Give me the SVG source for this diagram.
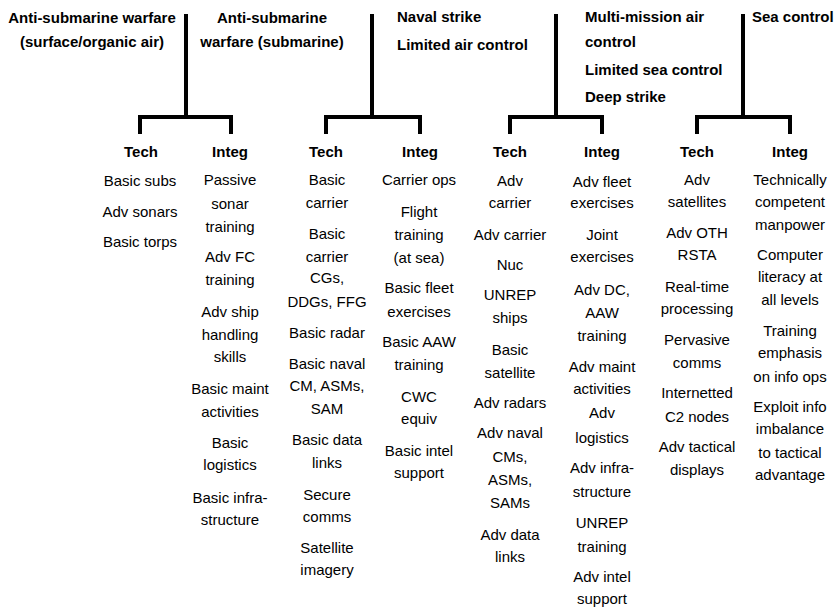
<svg xmlns="http://www.w3.org/2000/svg" width="838" height="611" viewBox="0 0 838 611">
<style>
text{font-family:"Liberation Sans",Arial,Helvetica,sans-serif;font-size:15px;fill:#000}
.b{font-weight:bold}
.c{text-anchor:middle}
.conn{fill:none;stroke:#000;stroke-width:4;stroke-linejoin:miter;stroke-linecap:butt}
</style>
<rect width="838" height="611" fill="#fff"/>
<g id="connectors">
<path class="conn" d="M186,14V117M140,134V117H231V134"/>
<path class="conn" d="M372,14V117M326,134V117H420V134"/>
<path class="conn" d="M556,14V117M510,134V117H602V134"/>
<path class="conn" d="M743,14V117M697,134V117H790V134"/>
</g>
<g id="mission-asw-surface"><text class="b c" x="92" y="23">Anti-submarine warfare</text><text class="b c" x="92" y="47">(surface/organic air)</text></g>
<g id="mission-asw-sub"><text class="b c" x="272" y="23">Anti-submarine</text><text class="b c" x="272" y="47">warfare (submarine)</text></g>
<g id="mission-naval-strike"><text class="b" x="397" y="22">Naval strike</text><text class="b" x="397" y="50">Limited air control</text></g>
<g id="mission-multi"><text class="b" x="585" y="22">Multi-mission air</text><text class="b" x="585" y="47">control</text><text class="b" x="585" y="75">Limited sea control</text><text class="b" x="585" y="102">Deep strike</text></g>
<g id="mission-sea-control"><text class="b" x="752" y="22">Sea control</text></g>

<g id="tech1"><text class="b c" x="141" y="157">Tech</text></g>
<g id="integ1"><text class="b c" x="230" y="157">Integ</text></g>
<g id="tech2"><text class="b c" x="326" y="157">Tech</text></g>
<g id="integ2"><text class="b c" x="420" y="157">Integ</text></g>
<g id="tech3"><text class="b c" x="510" y="157">Tech</text></g>
<g id="integ3"><text class="b c" x="602" y="157">Integ</text></g>
<g id="tech4"><text class="b c" x="697" y="157">Tech</text></g>
<g id="integ4"><text class="b c" x="790" y="157">Integ</text></g>

<g id="t1-items" class="c">
<text class="c" x="140" y="186">Basic subs</text>
<text class="c" x="140" y="217">Adv sonars</text>
<text class="c" x="140" y="247">Basic torps</text>
</g>
<g id="i1-items">
<text class="c" x="230" y="185">Passive</text><text class="c" x="230" y="209">sonar</text><text class="c" x="230" y="232">training</text>
<text class="c" x="230" y="262">Adv FC</text><text class="c" x="230" y="285">training</text>
<text class="c" x="230" y="317">Adv ship</text><text class="c" x="230" y="340">handling</text><text class="c" x="230" y="362">skills</text>
<text class="c" x="230" y="394">Basic maint</text><text class="c" x="230" y="417">activities</text>
<text class="c" x="230" y="448">Basic</text><text class="c" x="230" y="470">logistics</text>
<text class="c" x="230" y="503">Basic infra-</text><text class="c" x="230" y="525">structure</text>
</g>
<g id="t2-items">
<text class="c" x="327" y="185">Basic</text><text class="c" x="327" y="208">carrier</text>
<text class="c" x="327" y="239">Basic</text><text class="c" x="327" y="262">carrier</text><text class="c" x="327" y="283">CGs,</text><text class="c" x="327" y="307">DDGs, FFG</text>
<text class="c" x="327" y="338">Basic radar</text>
<text class="c" x="327" y="369">Basic naval</text><text class="c" x="327" y="391">CM, ASMs,</text><text class="c" x="327" y="414">SAM</text>
<text class="c" x="327" y="445">Basic data</text><text class="c" x="327" y="468">links</text>
<text class="c" x="327" y="500">Secure</text><text class="c" x="327" y="522">comms</text>
<text class="c" x="327" y="553">Satellite</text><text class="c" x="327" y="575">imagery</text>
</g>
<g id="i2-items">
<text class="c" x="419" y="185">Carrier ops</text>
<text class="c" x="419" y="217">Flight</text><text class="c" x="419" y="240">training</text><text class="c" x="419" y="263">(at sea)</text>
<text class="c" x="419" y="293">Basic fleet</text><text class="c" x="419" y="317">exercises</text>
<text class="c" x="419" y="347">Basic AAW</text><text class="c" x="419" y="370">training</text>
<text class="c" x="419" y="402">CWC</text><text class="c" x="419" y="424">equiv</text>
<text class="c" x="419" y="456">Basic intel</text><text class="c" x="419" y="478">support</text>
</g>
<g id="t3-items">
<text class="c" x="510" y="186">Adv</text><text class="c" x="510" y="208">carrier</text>
<text class="c" x="510" y="240">Adv carrier</text>
<text class="c" x="510" y="270">Nuc</text>
<text class="c" x="510" y="300">UNREP</text><text class="c" x="510" y="323">ships</text>
<text class="c" x="510" y="355">Basic</text><text class="c" x="510" y="378">satellite</text>
<text class="c" x="510" y="408">Adv radars</text>
<text class="c" x="510" y="438">Adv naval</text><text class="c" x="510" y="462">CMs,</text><text class="c" x="510" y="485">ASMs,</text><text class="c" x="510" y="508">SAMs</text>
<text class="c" x="510" y="540">Adv data</text><text class="c" x="510" y="562">links</text>
</g>
<g id="i3-items">
<text class="c" x="602" y="187">Adv fleet</text><text class="c" x="602" y="208">exercises</text>
<text class="c" x="602" y="240">Joint</text><text class="c" x="602" y="262">exercises</text>
<text class="c" x="602" y="295">Adv DC,</text><text class="c" x="602" y="318">AAW</text><text class="c" x="602" y="341">training</text>
<text class="c" x="602" y="372">Adv maint</text><text class="c" x="602" y="394">activities</text>
<text class="c" x="602" y="418">Adv</text><text class="c" x="602" y="443">logistics</text>
<text class="c" x="602" y="473">Adv infra-</text><text class="c" x="602" y="497">structure</text>
<text class="c" x="602" y="528">UNREP</text><text class="c" x="602" y="552">training</text>
<text class="c" x="602" y="582">Adv intel</text><text class="c" x="602" y="604">support</text>
</g>
<g id="t4-items">
<text class="c" x="697" y="185">Adv</text><text class="c" x="697" y="207">satellites</text>
<text class="c" x="697" y="238">Adv OTH</text><text class="c" x="697" y="260">RSTA</text>
<text class="c" x="697" y="292">Real-time</text><text class="c" x="697" y="314">processing</text>
<text class="c" x="697" y="345">Pervasive</text><text class="c" x="697" y="368">comms</text>
<text class="c" x="697" y="398">Internetted</text><text class="c" x="697" y="422">C2 nodes</text>
<text class="c" x="697" y="452">Adv tactical</text><text class="c" x="697" y="475">displays</text>
</g>
<g id="i4-items">
<text class="c" x="790" y="185">Technically</text><text class="c" x="790" y="207">competent</text><text class="c" x="790" y="230">manpower</text>
<text class="c" x="790" y="260">Computer</text><text class="c" x="790" y="282">literacy at</text><text class="c" x="790" y="305">all levels</text>
<text class="c" x="790" y="336">Training</text><text class="c" x="790" y="358">emphasis</text><text class="c" x="790" y="382">on info ops</text>
<text class="c" x="790" y="412">Exploit info</text><text class="c" x="790" y="434">imbalance</text><text class="c" x="790" y="458">to tactical</text><text class="c" x="790" y="480">advantage</text>
</g>
</svg>
